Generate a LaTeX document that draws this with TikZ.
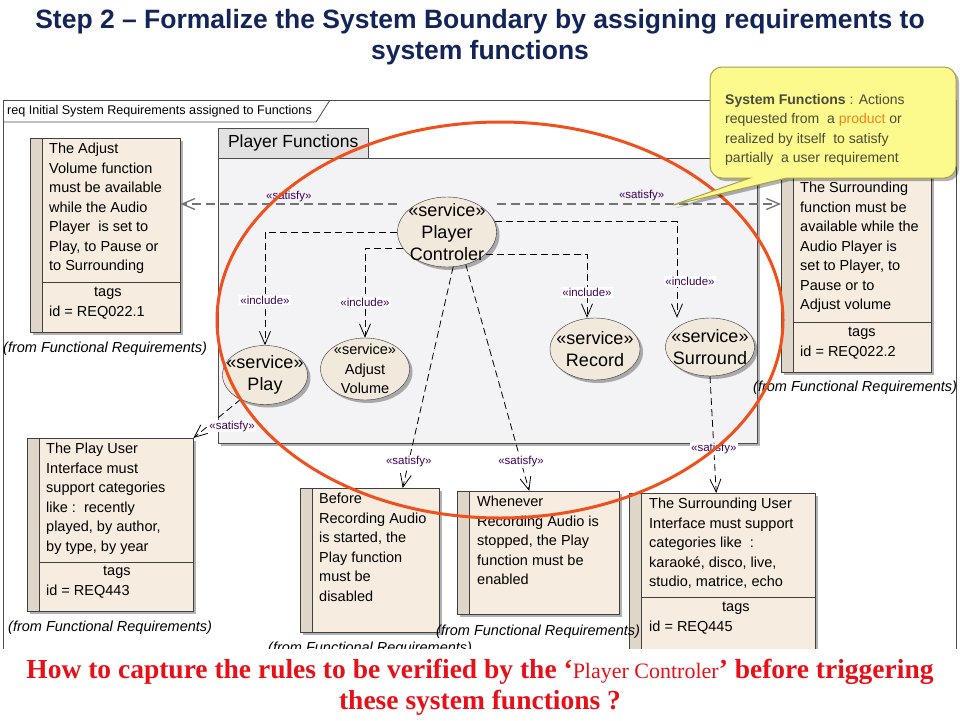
\documentclass[tikz,border=0pt]{standalone}
\usepackage{fontspec}
\setmainfont{Liberation Sans}
\newfontfamily\serifface{Liberation Serif}
\usetikzlibrary{positioning,shapes.geometric,shadows,arrows.meta}

\definecolor{titleblue}{RGB}{18,36,88}
\definecolor{reqfill}{RGB}{246,237,224}
\definecolor{reqstripe}{RGB}{222,214,200}
\definecolor{pkgfill}{RGB}{243,243,245}
\definecolor{pkgtab}{RGB}{226,226,226}
\definecolor{ovalfill}{RGB}{241,233,219}
\definecolor{stereo}{RGB}{60,0,90}
\definecolor{ringorange}{RGB}{240,80,28}
\definecolor{noteyellow}{RGB}{252,250,140}
\definecolor{noteline}{RGB}{165,160,70}
\definecolor{notetext}{RGB}{75,75,60}
\definecolor{productorange}{RGB}{240,130,30}
\definecolor{askred}{RGB}{232,16,24}

\begin{document}
\begin{tikzpicture}[x=1pt, y=-1pt,
    shadowed/.style={drop shadow={shadow xshift=3pt, shadow yshift=-3pt, opacity=0.3, fill=black}},
    req/.style={draw=black!75, fill=reqfill, anchor=north west, inner sep=0pt, shadowed},
    stripe/.style={draw=black!75, fill=reqstripe},
    reqtext/.style={anchor=north west, align=left, inner sep=0pt, font=\fontsize{14.5}{19.5}\selectfont},
    fromtext/.style={inner sep=0pt, font=\itshape\fontsize{14.5}{17}\selectfont},
    service/.style={ellipse, draw=black!80, fill=ovalfill, inner sep=0pt, shadowed},
    svctext/.style={align=center, inner sep=0pt, font=\fontsize{18}{22}\selectfont},
    stlabel/.style={fill=white, inner sep=1pt, text=stereo, font=\fontsize{11.5}{13}\selectfont},
    dep/.style={draw=black, dashed, dash pattern=on 7pt off 4pt, line width=0.8pt, -{Straight Barb[length=13pt, width=11pt]}},
    widedep/.style={dep, draw=black!55, line width=1.3pt, dash pattern=on 9pt off 5pt}
  ]
    \useasboundingbox (0,0) rectangle (960,720);

    % Title
    \node[align=center, text=titleblue, font=\bfseries\fontsize{26.5}{31}\selectfont] (title) at (480,37)
      {Step 2 – Formalize the System Boundary by assigning requirements to\\system functions};

    \begin{scope}
    \clip (0,0) rectangle (960,648);

    % Diagram frame
    \draw[black!70, line width=0.8pt] (3,660) -- (3,100) -- (956,100) -- (956,660);
    \draw[black!70, line width=0.8pt] (3,122) -- (316,122) -- (330,100);
    \node[anchor=west, inner sep=0pt, font=\fontsize{12.6}{14}\selectfont] (framelabel) at (7,111)
      {req Initial System Requirements assigned to Functions};

    % Package
    \node[draw=black!70, fill=pkgfill, anchor=north west, minimum width=539pt, minimum height=285pt, shadowed] (pkg) at (218,158) {};
    \node[draw=black!70, fill=pkgtab, anchor=north west, minimum width=150pt, minimum height=30pt,
      font=\fontsize{17.5}{20}\selectfont] (pkgtab) at (218,128) {Player Functions};

    % Requirements
    \node[req, minimum width=150pt, minimum height=194pt] (adjreq) at (30,138) {};
    \node[req, minimum width=150pt, minimum height=200pt] (surreq) at (781,172) {};
    \node[req, minimum width=166pt, minimum height=173pt] (playreq) at (27,438) {};
    \node[req, minimum width=139pt, minimum height=144pt] (beforereq) at (300,488) {};
    \node[req, minimum width=162pt, minimum height=123pt] (wheneverreq) at (457,491) {};
    \node[req, minimum width=186pt, minimum height=170pt] (surui) at (629,493) {};

    \draw[black!75] (adjreq.west |- 0,282) -- (adjreq.east |- 0,282);
    \draw[black!75] (surreq.west |- 0,322) -- (surreq.east |- 0,322);
    \draw[black!75] (playreq.west |- 0,562) -- (playreq.east |- 0,562);
    \draw[black!75] (surui.west |- 0,597) -- (surui.east |- 0,597);
    \foreach \r in {adjreq,surreq,playreq,beforereq,wheneverreq,surui}
      \draw[stripe] (\r.north west) rectangle ([xshift=12pt]\r.south west);

    \node[reqtext] (adjtxt) at (49,143) {The Adjust\\Volume function\\must be available\\while the Audio\\Player\ \ is set to\\Play, to Pause or\\to Surrounding};
    \node[reqtext] (adjtags) at (49,287) {\hspace*{45pt}tags\\id = REQ022.1};
    \node[fromtext, anchor=west] (adjfrom) at (3,349) {(from Functional Requirements)};

    \node[reqtext] (surtxt) at (800,182) {The Surrounding\\function must be\\available while the\\Audio Player is\\set to Player, to\\Pause or to\\Adjust volume};
    \node[reqtext] (surtags) at (800,327) {\hspace*{48pt}tags\\id = REQ022.2};
    \node[fromtext, anchor=west] (surfrom) at (753,388) {(from Functional Requirements)};

    \node[reqtext] (playtxt) at (46,443) {The Play User\\Interface must\\support categories\\like :\ \ recently\\played, by author,\\by type, by year};
    \node[reqtext] (playtags) at (46,566) {\hspace*{57pt}tags\\id = REQ443};
    \node[fromtext, anchor=west] (playfrom) at (8,628) {(from Functional Requirements)};

    \node[reqtext] (beforetxt) at (319,493) {Before\\Recording Audio\\is started, the\\Play function\\must be\\disabled};
    \node[fromtext, anchor=west] (beforefrom) at (268,649) {(from Functional Requirements)};

    \node[reqtext] (whenevertxt) at (477,496) {Whenever\\Recording Audio is\\stopped, the Play\\function must be\\enabled};
    \node[fromtext, anchor=west] (wheneverfrom) at (436,632) {(from Functional Requirements)};

    \node[reqtext] (suruitxt) at (649,498) {The Surrounding User\\Interface must support\\categories like\ \ :\\karaoké, disco, live,\\studio, matrice, echo};
    \node[reqtext] (suruitags) at (649,602) {\hspace*{73pt}tags\\id = REQ445};

    % Services
    \node[service, minimum width=99pt, minimum height=70pt] (ctrl) at (447,232) {};
    \node[service, minimum width=85pt, minimum height=59pt] (play) at (265,375) {};
    \node[service, minimum width=89pt, minimum height=62pt] (adjust) at (365,369) {};
    \node[service, minimum width=90pt, minimum height=62pt] (record) at (595,349) {};
    \node[service, minimum width=89pt, minimum height=58pt] (surround) at (710,347) {};

    \node[svctext] (ctrltxt) at (ctrl) {«service»\\Player\\Controler};
    \node[svctext] (playtxt) at (play) {«service»\\Play};
    \node[svctext, font=\fontsize{14.5}{19.5}\selectfont] (adjusttxt) at (adjust) {«service»\\Adjust\\Volume};
    \node[svctext] (recordtxt) at (record) {«service»\\Record};
    \node[svctext] (surroundtxt) at (surround) {«service»\\Surround};

    % Include links
    \draw[dep] (ctrl.west) -| (play.north) node[stlabel, pos=0.8] {«include»};
    \draw[dep] (ctrl.200) -| (adjust.north) node[stlabel, pos=0.8] {«include»};
    \draw[dep] (ctrl.330) -| ([xshift=-8pt]record.north) node[stlabel, pos=0.8] {«include»};
    \draw[dep] (ctrl.12) -| ([xshift=-33pt]surround.north) node[stlabel, pos=0.81, xshift=13pt] {«include»};

    % Satisfy links
    \draw[widedep] (ctrl.west |- 0,204) -- (adjreq.east |- 0,204) node[stlabel, fill=none, pos=0.5, above=0pt] {«satisfy»};
    \draw[widedep] (ctrl.east |- 0,204) -- (surreq.west |- 0,204) node[stlabel, fill=none, pos=0.51, above=1pt] {«satisfy»};
    \draw[dep] (play.225) -- (playreq.north east) node[stlabel, pos=0.69, anchor=west] {«satisfy»};
    \draw[dep] (ctrl.280) -- ([xshift=33pt]beforereq.north) node[stlabel, pos=0.88] {«satisfy»};
    \draw[dep] (ctrl.300) -- ([xshift=-9pt]wheneverreq.north) node[stlabel, pos=0.87] {«satisfy»};
    \draw[dep] (surround.south) -- ([xshift=-6pt]surui.north) node[stlabel, pos=0.62] {«satisfy»};

    % Highlight ring
    \draw[ringorange, line width=3pt] (500,320) ellipse [x radius=283, y radius=198];

    % Callout
    \draw[fill=noteyellow, draw=noteline, line width=1pt, shadowed] (787,178) [rounded corners=12pt] -- (956,178) -- (956,67) -- (710,67) -- (710,178) [sharp corners] -- (750,178) -- (673,205) -- cycle;
    \node[anchor=north west, align=left, inner sep=0pt, text=notetext, font=\fontsize{14}{19.5}\selectfont] (note) at (725,94)
      {\textbf{System Functions} : Actions\\requested from\ \ a \textcolor{productorange}{product} or\\realized by itself\ \ to satisfy\\partially\ \ a user requirement};
    \end{scope}

    % Question
    \node[align=center, text=askred, font=\serifface\bfseries\fontsize{27.5}{31}\selectfont] (question) at (480,687)
      {How to capture the rules to be verified by the ‘{\mdseries\fontsize{22}{31}\selectfont Player Controler}’ before triggering\\these system functions ?};
\end{tikzpicture}
\end{document}
